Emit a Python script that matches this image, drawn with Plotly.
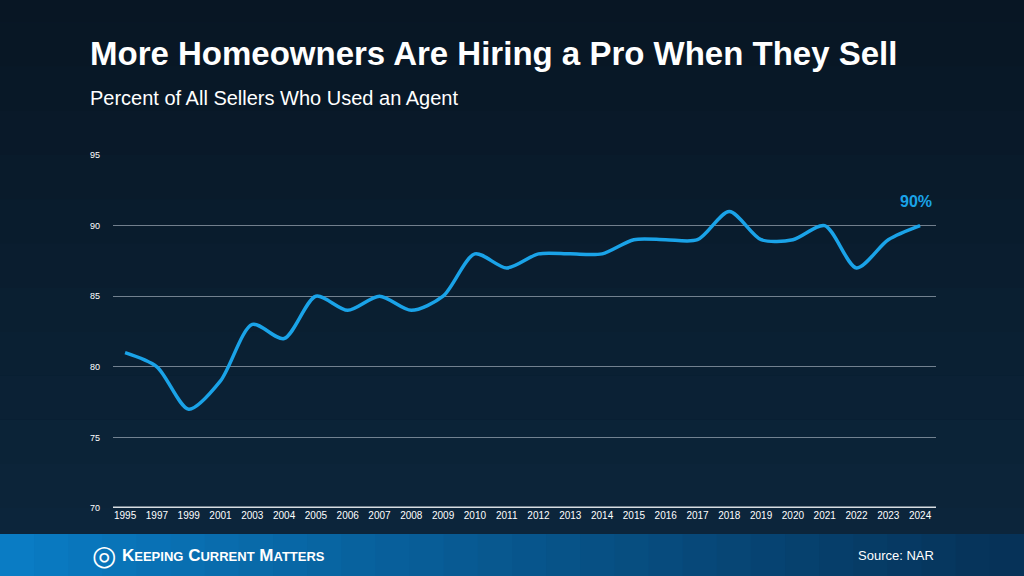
import plotly.graph_objects as go

years = ["1995","1997","1999","2001","2003","2004","2005","2006","2007","2008","2009","2010","2011","2012","2013","2014","2015","2016","2017","2018","2019","2020","2021","2022","2023","2024"]
values = [81,80,77,79,83,82,85,84,85,84,85,88,87,88,88,88,89,89,89,91,89,89,90,87,89,90]
yticks = [70,75,80,85,90,95]

fig = go.Figure()
fig.add_trace(go.Scatter(x=years, y=values, mode="lines",
    line=dict(color="#1aa3e8", width=3.5, shape="spline", smoothing=0.8),
    hoverinfo="skip"))
fig.add_annotation(xref="x", yref="y", x=len(years) - 1, y=values[-1], text="<b>90%</b>",
    showarrow=False, xanchor="right", yanchor="bottom", yshift=14, xshift=14,
    font=dict(color="#1aa3e8", size=16, family="Liberation Sans"))

shapes = []
n = 20
for i in range(n):
    t = i / (n - 1)
    r = int(8 + t * 7); g = int(22 + t * 25); b = int(36 + t * 37)
    shapes.append(dict(type="rect", xref="paper", yref="paper", x0=-1, x1=2,
        y0=1.5 - (i + 1) * 2.5 / n, y1=1.5 - i * 2.5 / n,
        fillcolor=f"rgb({r},{g},{b})", line=dict(width=0), layer="below"))
m = 30
for i in range(m):
    t = i / (m - 1)
    r = int(10 + t * (6 - 10)); g = int(124 + t * (50 - 124)); b = int(196 + t * (88 - 196))
    shapes.append(dict(type="rect", xref="paper", yref="paper",
        x0=(-113 + i * 1024 / m) / 823, x1=(-113 + (i + 1) * 1024 / m + 1) / 823,
        y0=(508 - 580) / 353, y1=(508 - 534) / 353,
        fillcolor=f"rgb({r},{g},{b})", line=dict(width=0), layer="above"))
fig.update_layout(shapes=shapes)

def txt(x, y, text, size, anchor="left", family="Liberation Sans"):
    fig.add_annotation(xref="paper", yref="paper", x=(x - 113) / 823, y=(508 - y) / 353,
        text=text, showarrow=False, xanchor=anchor, yanchor="middle",
        font=dict(color="white", size=size, family=family))

txt(88, 54, "<b>More Homeowners Are Hiring a Pro When They Sell</b>", 33)
txt(88, 98, "Percent of All Sellers Who Used an Agent", 20)
txt(90, 555, "◎", 28, family="DejaVu Sans")
txt(120, 555, "<b>K<span style='font-size:13px'>EEPING</span> C<span style='font-size:13px'>URRENT</span> M<span style='font-size:13px'>ATTERS</span></b>", 17)
txt(936, 555, "Source: NAR", 13, anchor="right")

fig.update_layout(
    width=1024, height=576, margin=dict(l=113, r=88, t=155, b=68),
    paper_bgcolor="#0b1e30", plot_bgcolor="rgba(0,0,0,0)", showlegend=False,
    xaxis=dict(type="category", showgrid=False, zeroline=False, ticks="",
        tickfont=dict(color="white", size=10, family="Liberation Sans"),
        range=[-0.38, 25.5]),
    yaxis=dict(range=[70, 95], tickvals=yticks, gridcolor="rgba(200,210,220,0.55)", gridwidth=1,
        zeroline=False, ticks="", ticklabelstandoff=12,
        tickfont=dict(color="white", size=9, family="Liberation Sans")),
)
fig.add_hline(y=70, line=dict(color="#d8dde2", width=3))
fig.write_html("out.html", config={"displayModeBar": False},
    post_script="document.body.style.margin='0';")
